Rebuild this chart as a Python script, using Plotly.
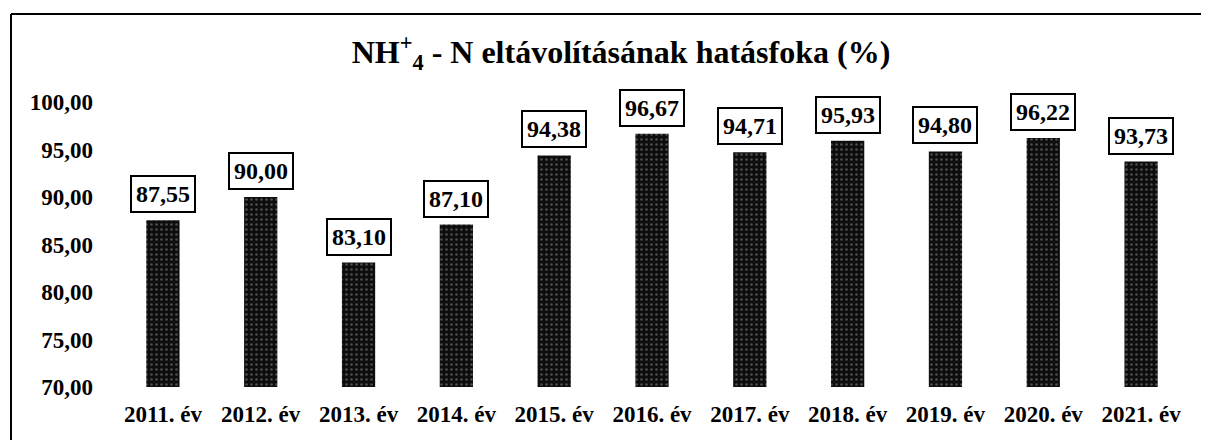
import plotly.graph_objects as go

categories = ["2011. év", "2012. év", "2013. év", "2014. év", "2015. év", "2016. év",
              "2017. év", "2018. év", "2019. év", "2020. év", "2021. év"]
values = [87.55, 90.00, 83.10, 87.10, 94.38, 96.67, 94.71, 95.93, 94.80, 96.22, 93.73]
y_ticks = [70, 75, 80, 85, 90, 95, 100]
y_tick_labels = ["70,00", "75,00", "80,00", "85,00", "90,00", "95,00", "100,00"]
title_text = "NH<sup>+</sup><sub>4</sub> - N eltávolításának hatásfoka (%)"

OFF = 8  # page body margin
W, H = 1209 - OFF, 440 - OFF
# target positions in page pixels
PL, PR, PT, PB = 114, 1190, 102, 387
ML, MR, MT, MB = PL - OFF, W - (PR - OFF), PT - OFF, H - (PB - OFF)
serif = "Liberation Serif, Times New Roman, serif"

fig = go.Figure()
fig.add_trace(go.Bar(
    x=categories, y=values,
    marker=dict(color="#0d0d0d", line=dict(width=0),
                pattern=dict(shape=".", fgcolor="#8c8c8c", bgcolor="#0d0d0d",
                             size=5, solidity=0.22)),
    width=0.34,
    hoverinfo="skip",
))

for c, v in zip(categories, values):
    fig.add_annotation(
        x=c, y=v, xref="x", yref="y",
        text=f"{v:.2f}".replace(".", ","),
        showarrow=False, yanchor="bottom", yshift=7,
        font=dict(family=serif, size=24, color="black", weight="bold"),
        bgcolor="white", bordercolor="black", borderwidth=2, borderpad=4,
    )

pw = W - ML - MR
ph = H - MT - MB
def px(xpage):
    return (xpage - OFF - ML) / pw
def py(ypage):
    return (H - MB - (ypage - OFF)) / ph

# outer frame (top and left edges)
fig.add_shape(type="line", xref="paper", yref="paper",
              x0=px(11), x1=px(1204), y0=py(14), y1=py(14),
              line=dict(color="black", width=2))
fig.add_shape(type="line", xref="paper", yref="paper",
              x0=px(11), x1=px(11), y0=py(14), y1=py(440),
              line=dict(color="black", width=2))

fig.update_layout(
    width=W, height=H,
    margin=dict(l=ML, r=MR, t=MT, b=MB),
    paper_bgcolor="white", plot_bgcolor="white",
    showlegend=False,
    title=dict(text=title_text, x=(621 - OFF) / W, xanchor="center",
               y=1 - (52 - OFF) / H, yanchor="middle",
               font=dict(family=serif, size=32, color="black", weight="bold")),
    xaxis=dict(showgrid=False, showline=False, zeroline=False, ticks="",
               tickfont=dict(family=serif, size=23, color="black", weight="bold"),
               ticklabelstandoff=11, range=[-0.5, 10.5]),
    yaxis=dict(range=[70, 100], showgrid=False, showline=False, zeroline=False,
               tickvals=y_ticks, ticktext=y_tick_labels, ticks="",
               tickfont=dict(family=serif, size=23, color="black", weight="bold"),
               ticklabelstandoff=20),
)

fig.write_html("out.html")
